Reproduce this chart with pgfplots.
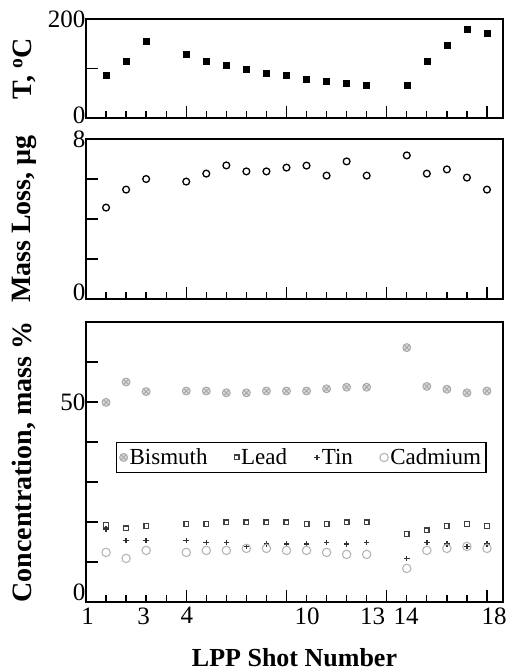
\documentclass[border=0pt]{standalone}
\usepackage{pgfplots}
\pgfplotsset{compat=1.18}
\usepackage{fontspec}
\setmainfont{Liberation Serif}

% shot positions on the category axis (gaps at 3 and 14)
\pgfplotstableread{
k  T    ml
0  86   4.57
1  115  5.47
2  155  6.00
4  128  5.87
5  115  6.27
6  107  6.68
7  99   6.38
8  91   6.38
9  86   6.57
10 78   6.67
11 74   6.17
12 70   6.88
13 66   6.17
15 66   7.18
16 115  6.27
17 147  6.48
18 180  6.07
19 172  5.47
}\shots

\pgfplotstableread{
k  Bi    Pb    Sn    Cd
0  49.9  19.25 18.3  12.4
1  55.0  18.4  15.4  10.9
2  52.6  19.0  15.4  12.9
4  52.75 19.5  15.4  12.4
5  52.75 19.5  14.9  12.9
6  52.3  19.9  14.9  12.9
7  52.3  19.9  13.9  13.4
8  52.75 19.9  14.5  13.4
9  52.75 19.9  14.5  12.9
10 52.75 19.5  14.5  12.9
11 53.3  19.5  14.9  12.4
12 53.7  19.9  14.5  11.9
13 53.7  19.9  14.9  11.9
15 63.6  17.0  10.9  8.4
16 53.9  17.9  14.9  12.9
17 53.2  19.0  14.5  13.4
18 52.3  19.5  13.9  13.9
19 52.75 19.0  14.5  13.4
}\conc

\definecolor{biC}{HTML}{A8A8A8}
\definecolor{pbC}{HTML}{404040}
\definecolor{snC}{HTML}{303030}
\definecolor{cdC}{HTML}{B5B5B5}

\pgfplotsset{
  panel/.style={
    scale only axis, width=417pt, xmin=-1, xmax=19.8,
    axis line style={line width=1.3pt},
    every tick/.style={line width=1.3pt, black},
    xtick pos=bottom, ytick pos=left, tick align=inside,
    xtick={4,9,14,19}, xticklabels={},
    minor xtick={0,...,19},
    major tick length=12pt, minor tick length=7pt,
    tick label style={font=\fontsize{25}{25}\selectfont},
    yticklabel style={xshift=3pt},
    extra y ticks={0}, extra y tick labels={0},
    every axis y label/.style={at={(axis description cs:-0.148,0.5)}, rotate=90, anchor=center,
      font=\fontsize{28}{28}\selectfont\bfseries},
    clip=false,
  },
}

\begin{document}
\begin{tikzpicture}
\useasboundingbox (0pt,0pt) rectangle (507pt,-671pt);

\begin{axis}[panel, at={(86pt,-19pt)}, anchor=north west, height=99pt,
  ymin=0, ymax=200, ytick={0,100,200}, yticklabels={,,200},
  extra y tick style={yticklabel style={yshift=3pt}},
  ylabel={T, \textsuperscript{o}C}]
\addplot[only marks, mark=square*, mark size=3pt, black] table[x=k, y=T] {\shots};
\end{axis}

\begin{axis}[panel, at={(86pt,-139pt)}, anchor=north west, height=160pt,
  ymin=0, ymax=8, ytick={0,2,4,6,8}, yticklabels={,,,,8},
  extra y tick style={yticklabel style={yshift=7pt}},
  ylabel={Mass Loss, µg}]
\addplot[only marks, mark=o, mark size=3.4pt, mark options={line width=1.3pt}, black] table[x=k, y=ml] {\shots};
\end{axis}

\begin{axis}[panel, at={(86pt,-322pt)}, anchor=north west, height=280pt,
  ymin=0, ymax=70, ytick={0,10,...,70}, yticklabels={,,,,,50,,},
  extra y tick style={yticklabel style={yshift=10pt}},
  ylabel={Concentration, mass \%},
  extra x ticks={-0.92,1.87,4.03,10.03,13.3,14.97,19.36},
  extra x tick labels={1,3,4,10,13,14,18},
  extra x tick style={major tick length=0pt, xticklabel style={yshift=-2pt}},
  xlabel={LPP Shot Number},
  every axis x label/.style={at={(axis description cs:0.5,0)}, anchor=base, yshift=-64pt,
    font=\fontsize{26}{26}\selectfont\bfseries},
  legend columns=4,
  legend style={at={(axis description cs:0.072,0.571)}, anchor=north west,
    draw=black, line width=1.2pt, font=\fontsize{23}{23}\selectfont,
    inner xsep=3pt, inner ysep=4pt,
    nodes={inner xsep=2pt},
    /tikz/every even column/.append style={column sep=25pt}},
  legend image code/.code={\draw[mark repeat=2,mark phase=2] plot coordinates {(0pt,0pt)(4pt,0pt)(8pt,0pt)};},
]
\addplot[only marks, mark=otimes*, mark size=4pt, mark options={draw=biC, fill=biC!45, line width=0.9pt}] table[x=k, y=Bi] {\conc};
\addlegendentry{Bismuth}
\addplot[only marks, mark=square, mark size=2.3pt, mark options={draw=pbC, line width=1.4pt}] table[x=k, y=Pb] {\conc};
\addlegendentry{Lead}
\addplot[only marks, mark=+, mark size=2.8pt, mark options={draw=snC, line width=1.4pt}] table[x=k, y=Sn] {\conc};
\addlegendentry{Tin}
\addplot[only marks, mark=o, mark size=4.2pt, mark options={draw=cdC, line width=1.1pt}] table[x=k, y=Cd] {\conc};
\addlegendentry{Cadmium}
\end{axis}
\end{tikzpicture}
\end{document}
